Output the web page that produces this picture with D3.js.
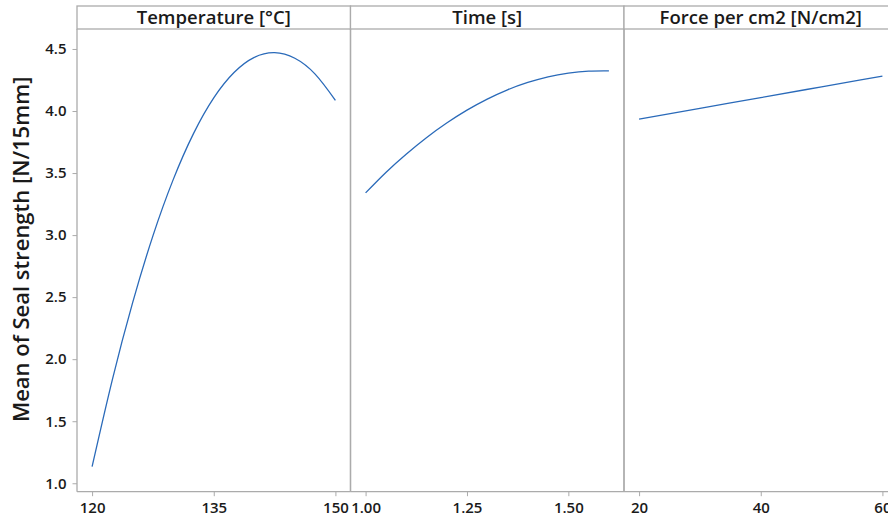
<!DOCTYPE html>
<html>
<head>
<meta charset="utf-8">
<script src="https://cdn.jsdelivr.net/npm/d3@7/dist/d3.min.js"></script>
<style>
  html, body { margin: 0; padding: 0; background: #fff; }
  svg { display: block; }
  text { font-family: "Open Sans", "Noto Sans", sans-serif; }
</style>
</head>
<body>
<svg id="chart" width="888" height="523"></svg>
<script>
// Main effects of the seal process factors on mean seal strength
const panelTitles = ["Temperature [°C]", "Time [s]", "Force per cm2 [N/cm2]"];

const temperature = [120, 122.5, 125, 127.5, 130, 132.5, 135, 137.5, 140, 142.5, 145, 147.5, 150];
const temperatureMean = [1.134, 1.836, 2.456, 2.994, 3.447, 3.818, 4.106, 4.310, 4.432, 4.470, 4.425, 4.297, 4.086];

const time = [1.00, 1.05, 1.10, 1.15, 1.20, 1.25, 1.30, 1.35, 1.40, 1.45, 1.50, 1.55, 1.60];
const timeMean = [3.340, 3.505, 3.652, 3.785, 3.903, 4.007, 4.096, 4.171, 4.230, 4.276, 4.306, 4.322, 4.324];

const force = [20, 30, 40, 50, 60];
const forceMean = [3.935, 4.022, 4.108, 4.195, 4.282];

const temperatureTicks = [120, 135, 150];
const timeTicks = [1.00, 1.25, 1.50];
const forceTicks = [20, 40, 60];

const yTicks = [1.0, 1.5, 2.0, 2.5, 3.0, 3.5, 4.0, 4.5];
const yLimits = [0.932, 4.661];
const yTitle = "Mean of Seal strength [N/15mm]";

const panels = [
  { title: panelTitles[0], x: temperature, y: temperatureMean, ticks: temperatureTicks, fmt: d3.format("d") },
  { title: panelTitles[1], x: time, y: timeMean, ticks: timeTicks, fmt: d3.format(".2f") },
  { title: panelTitles[2], x: force, y: forceMean, ticks: forceTicks, fmt: d3.format("d") }
];

const svg = d3.select("#chart");
const frameColor = "#ababab";
const lineColor = "#2a6ab9";
const textColor = "#1a1a1a";

const marginLeft = 77, frameTop = 6, headerH = 23, plotBottom = 491.7;
const panelW = 273.5;
const plotTop = frameTop + headerH;

const y = d3.scaleLinear().domain(yLimits).range([plotBottom, plotTop]);

// Y axis
const yAxis = svg.append("g")
  .attr("transform", `translate(${marginLeft},0)`)
  .call(d3.axisLeft(y).tickValues(yTicks).tickFormat(d3.format(".1f")).tickSize(4.5).tickPadding(6));
yAxis.select(".domain").remove();
yAxis.selectAll(".tick line").attr("stroke", frameColor).attr("stroke-width", 1);
yAxis.selectAll(".tick text")
  .attr("fill", textColor)
  .style("font-size", "15px")
  .style("font-weight", 600);

// Y title
svg.append("text")
  .attr("transform", `translate(29,${(plotTop + plotBottom) / 2 - 11}) rotate(-90)`)
  .attr("text-anchor", "middle")
  .attr("fill", textColor)
  .style("font-size", "22px")
  .style("font-weight", 600)
  .text(yTitle);

panels.forEach((p, i) => {
  const x0 = marginLeft + i * panelW;
  const ext = d3.extent(p.x);
  const pad = (ext[1] - ext[0]) * 0.062;
  const x = d3.scaleLinear().domain([ext[0] - pad, ext[1] + pad]).range([x0, x0 + panelW]);

  const g = svg.append("g");

  // header strip
  g.append("rect")
    .attr("x", x0).attr("y", frameTop)
    .attr("width", panelW).attr("height", headerH)
    .attr("fill", "#fff")
    .attr("stroke", frameColor).attr("stroke-width", 1.3);

  g.append("text")
    .attr("x", x0 + panelW / 2)
    .attr("y", frameTop + headerH / 2 + 6.8)
    .attr("text-anchor", "middle")
    .attr("fill", textColor)
    .style("font-size", "18.5px")
    .style("font-weight", 600)
    .text(p.title);

  // panel body (left and right borders)
  g.append("line")
    .attr("x1", x0).attr("x2", x0)
    .attr("y1", plotTop).attr("y2", plotBottom)
    .attr("stroke", frameColor).attr("stroke-width", 1.3);
  g.append("line")
    .attr("x1", x0 + panelW).attr("x2", x0 + panelW)
    .attr("y1", plotTop).attr("y2", plotBottom)
    .attr("stroke", frameColor).attr("stroke-width", 1.3);

  // X axis
  const xAxis = g.append("g")
    .attr("transform", `translate(0,${plotBottom})`)
    .call(d3.axisBottom(x).tickValues(p.ticks).tickFormat(p.fmt).tickSize(4.5).tickPadding(6));
  xAxis.select(".domain")
    .attr("d", `M${x0},0H${x0 + panelW}`)
    .attr("stroke", frameColor).attr("stroke-width", 1.3);
  xAxis.selectAll(".tick line").attr("stroke", frameColor).attr("stroke-width", 1);
  xAxis.selectAll(".tick text")
    .attr("fill", textColor)
    .style("font-size", "15px")
    .style("font-weight", 600);

  // main effect line
  const line = d3.line()
    .x((d, k) => x(p.x[k]))
    .y(d => y(d))
    .curve(d3.curveNatural);
  g.append("path")
    .datum(p.y)
    .attr("d", line)
    .attr("fill", "none")
    .attr("stroke", lineColor)
    .attr("stroke-width", 1.3);
});
</script>
</body>
</html>
